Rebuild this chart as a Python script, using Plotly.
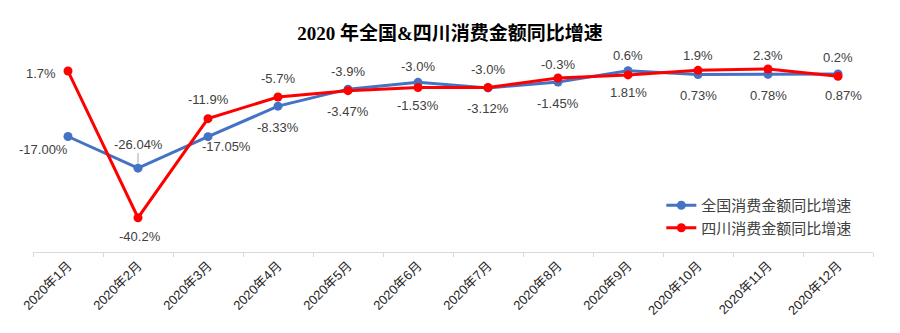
import plotly.graph_objects as go

months = ["2020年1月", "2020年2月", "2020年3月", "2020年4月", "2020年5月", "2020年6月",
          "2020年7月", "2020年8月", "2020年9月", "2020年10月", "2020年11月", "2020年12月"]
national = [-17.00, -26.04, -17.05, -8.33, -3.47, -1.53, -3.12, -1.45, 1.81, 0.73, 0.78, 0.87]
sichuan = [1.7, -40.2, -11.9, -5.7, -3.9, -3.0, -3.0, -0.3, 0.6, 1.9, 2.3, 0.2]
national_labels = ["-17.00%", "-26.04%", "-17.05%", "-8.33%", "-3.47%", "-1.53%",
                   "-3.12%", "-1.45%", "1.81%", "0.73%", "0.78%", "0.87%"]
sichuan_labels = ["1.7%", "-40.2%", "-11.9%", "-5.7%", "-3.9%", "-3.0%",
                  "-3.0%", "-0.3%", "0.6%", "1.9%", "2.3%", "0.2%"]

# label offsets (xshift, yshift) in pixels
nat_off = [(-25, -13), (0, 24), (18, -10), (0, -21), (0, -22), (0, -23),
           (0, -21), (0, -21), (0, -22), (0, -21), (0, -21), (5, -22)]
sc_off = [(-27, -2), (2, -19), (0, 19), (0, 18), (0, 19), (0, 21),
          (0, 18), (0, 14), (0, 19), (0, 15), (0, 13), (0, 19)]

BLUE = "#4472C4"
RED = "#FF0000"
LABEL_FONT = dict(family="Liberation Sans, Noto Sans CJK SC", size=13, color="#404040")

fig = go.Figure()
fig.add_trace(go.Scatter(x=months, y=national, mode="lines+markers",
                         name="全国消费金额同比增速",
                         line=dict(color=BLUE, width=3),
                         marker=dict(color=BLUE, size=9)))
fig.add_trace(go.Scatter(x=months, y=sichuan, mode="lines+markers",
                         name="四川消费金额同比增速",
                         line=dict(color=RED, width=3),
                         marker=dict(color=RED, size=9)))

annotations = []
for i, m in enumerate(months):
    dx, dy = nat_off[i]
    if i == 1:
        annotations.append(dict(x=m, y=national[i], text=national_labels[i],
                                showarrow=True, arrowhead=0, arrowwidth=1,
                                arrowcolor="#a6a6a6", ax=dx, ay=-dy, standoff=4,
                                font=LABEL_FONT))
    else:
        annotations.append(dict(x=m, y=national[i], text=national_labels[i],
                                showarrow=False, xshift=dx, yshift=dy, font=LABEL_FONT))
    dx, dy = sc_off[i]
    annotations.append(dict(x=m, y=sichuan[i], text=sichuan_labels[i],
                            showarrow=False, xshift=dx, yshift=dy, font=LABEL_FONT))

fig.update_layout(
    width=900, height=333,
    margin=dict(l=33, r=27, t=42, b=81),
    paper_bgcolor="white", plot_bgcolor="white",
    title=dict(text="<b>2020 年全国&四川消费金额同比增速</b>",
               x=0.5, xanchor="center", y=0.9, yanchor="middle", yref="container",
               font=dict(family="Liberation Serif, Noto Sans CJK SC", size=19, color="black")),
    xaxis=dict(type="category", range=[-0.5, 11.5], showgrid=False,
               showline=True, linecolor="#d9d9d9", linewidth=1,
               ticks="outside", tickson="boundaries", ticklen=4, tickcolor="#d9d9d9",
               tickangle=-45,
               tickfont=dict(family="Liberation Sans, Noto Sans CJK SC", size=13, color="#262626")),
    yaxis=dict(range=[-50, 10], visible=False, showgrid=False, zeroline=False),
    legend=dict(x=0.748, y=0.30, xanchor="left", yanchor="top",
                bgcolor="rgba(0,0,0,0)",
                font=dict(family="Noto Sans CJK SC", size=15, color="#404040")),
    annotations=annotations,
)

fig.write_html("out.html")
